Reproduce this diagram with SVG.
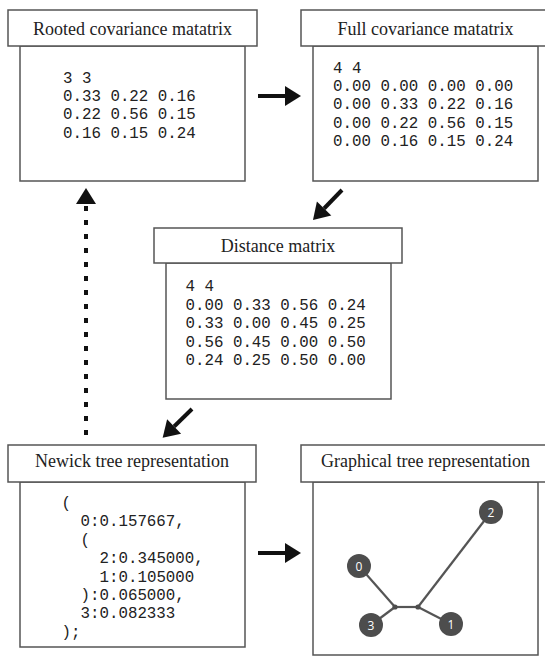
<svg xmlns="http://www.w3.org/2000/svg" width="545" height="657" viewBox="0 0 545 657">
<style>
.box{fill:#fff;stroke:#555;stroke-width:1.5}
.title{font-family:"Liberation Serif","Times New Roman",serif;font-size:18px;fill:#222;text-anchor:middle}
.mono{font-family:"Liberation Mono","Courier New",monospace;font-size:15.8px;fill:#222}
.arrow{stroke:#111;stroke-width:4;fill:none;marker-end:url(#head)}
.dotted{stroke-dasharray:5 9}
.edge{stroke:#555;stroke-width:2.2}
.tn{fill:#4d4d4d}
.tl{font-family:"Open Sans","DejaVu Sans",sans-serif;font-size:12px;fill:#fff;text-anchor:middle}
</style>
<defs>
<marker id="head" markerUnits="userSpaceOnUse" markerWidth="17" markerHeight="21" refX="0" refY="10" orient="auto" overflow="visible">
<path d="M0,0 L16,10 L0,20 Z" fill="#111"/>
</marker>
</defs>
<rect width="545" height="657" fill="#fff"/>

<g id="rooted">
<rect class="box" x="20" y="46" width="225" height="135"/>
<rect class="box" x="8" y="10" width="249" height="36"/>
<text class="title" x="132.5" y="35">Rooted covariance matatrix</text>
<text class="mono" x="63" y="82.7">3 3</text>
<text class="mono" x="63" y="101">0.33 0.22 0.16</text>
<text class="mono" x="63" y="119.3">0.22 0.56 0.15</text>
<text class="mono" x="63" y="137.6">0.16 0.15 0.24</text>
</g>

<g id="full">
<rect class="box" x="313" y="46" width="225" height="135"/>
<rect class="box" x="301" y="10" width="249" height="36"/>
<text class="title" x="425.5" y="35">Full covariance matatrix</text>
<text class="mono" x="333" y="72.7">4 4</text>
<text class="mono" x="333" y="91">0.00 0.00 0.00 0.00</text>
<text class="mono" x="333" y="109.3">0.00 0.33 0.22 0.16</text>
<text class="mono" x="333" y="127.7">0.00 0.22 0.56 0.15</text>
<text class="mono" x="333" y="146">0.00 0.16 0.15 0.24</text>
</g>

<g id="distance">
<rect class="box" x="166" y="263" width="225" height="136"/>
<rect class="box" x="154" y="228" width="248" height="35"/>
<text class="title" x="278" y="252">Distance matrix</text>
<text class="mono" x="185.5" y="291">4 4</text>
<text class="mono" x="185.5" y="309.5">0.00 0.33 0.56 0.24</text>
<text class="mono" x="185.5" y="328">0.33 0.00 0.45 0.25</text>
<text class="mono" x="185.5" y="346.5">0.56 0.45 0.00 0.50</text>
<text class="mono" x="185.5" y="365">0.24 0.25 0.50 0.00</text>
</g>

<g id="newick">
<rect class="box" x="20" y="482" width="225" height="165"/>
<rect class="box" x="8" y="445" width="248" height="37"/>
<text class="title" x="132" y="467">Newick tree representation</text>
<text class="mono" x="61.5" y="507.6">(</text>
<text class="mono" x="80.5" y="526">0:0.157667,</text>
<text class="mono" x="80.5" y="544.5">(</text>
<text class="mono" x="99.5" y="563">2:0.345000,</text>
<text class="mono" x="99.5" y="581.5">1:0.105000</text>
<text class="mono" x="80.5" y="600">):0.065000,</text>
<text class="mono" x="80.5" y="618.4">3:0.082333</text>
<text class="mono" x="61.5" y="636.8">);</text>
</g>

<g id="graphical">
<rect class="box" x="313" y="482" width="225" height="173"/>
<rect class="box" x="301" y="445" width="249" height="37"/>
<text class="title" x="425.5" y="467">Graphical tree representation</text>
<g id="tree">
<line class="edge" x1="359" y1="566" x2="395" y2="607"/>
<line class="edge" x1="371" y1="625" x2="395" y2="607"/>
<line class="edge" x1="395" y1="607" x2="418" y2="607"/>
<line class="edge" x1="418" y1="607" x2="491" y2="512"/>
<line class="edge" x1="418" y1="607" x2="451" y2="624"/>
<circle class="tn" cx="395" cy="607" r="2.6"/>
<circle class="tn" cx="418" cy="607" r="2.6"/>
<circle class="tn" cx="491" cy="512" r="12"/>
<text class="tl" x="491" y="516.5">2</text>
<circle class="tn" cx="359" cy="566" r="12"/>
<text class="tl" x="359" y="570.5">0</text>
<circle class="tn" cx="371" cy="625" r="12"/>
<text class="tl" x="371" y="629.5">3</text>
<circle class="tn" cx="451" cy="624" r="12"/>
<text class="tl" x="451" y="628.5">1</text>
</g>
</g>

<g id="connectors">
<line class="arrow" x1="258" y1="96" x2="285" y2="96"/>
<line class="arrow" x1="342" y1="190" x2="324.1" y2="208.5"/>
<line class="arrow" x1="192" y1="409" x2="174.1" y2="426.5"/>
<line class="arrow" x1="258" y1="553" x2="285" y2="553"/>
<line class="arrow dotted" x1="86" y1="435" x2="86" y2="204"/>
</g>
</svg>
